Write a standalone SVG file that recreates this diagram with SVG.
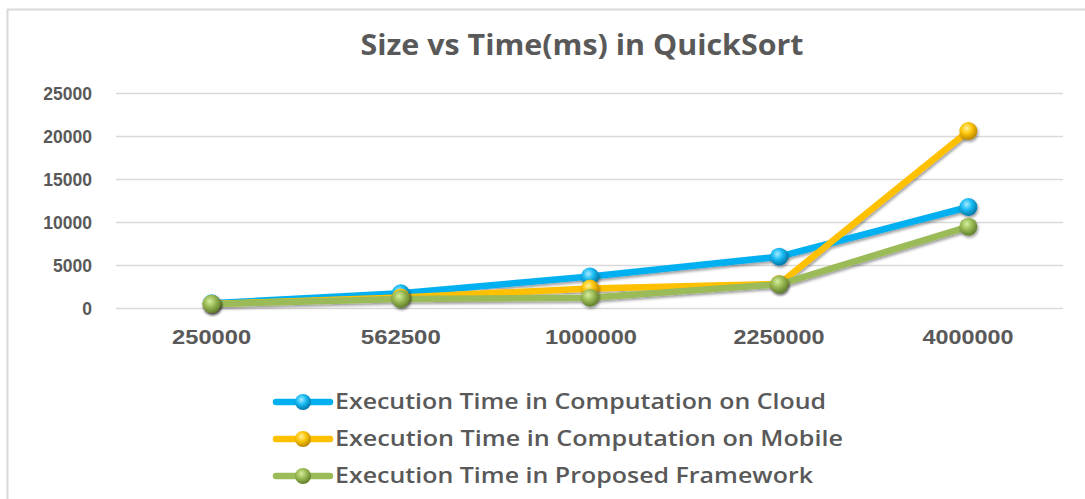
<svg xmlns="http://www.w3.org/2000/svg" width="1085" height="499" viewBox="0 0 1085 499">
  <defs>
    <style>
      .grid { stroke: #D9D9D9; stroke-width: 1.6; }
      .ylab { font-family: "Liberation Sans", Arial, sans-serif; font-weight: bold; font-size: 17.5px; fill: #595959; text-anchor: end; }
      .xlab { font-family: "Liberation Sans", Arial, sans-serif; font-weight: bold; font-size: 19.5px; fill: #595959; text-anchor: middle; }
      .title { font-family: "Open Sans", "Liberation Sans", sans-serif; font-weight: 700; font-size: 28px; fill: #595959; }
      .leg { font-family: "Open Sans", "Liberation Sans", sans-serif; font-weight: 600; font-size: 21px; fill: #595959; }
      .series { fill: none; stroke-width: 6.5; stroke-linejoin: round; stroke-linecap: round; }
      .cloud { stroke: #00B0F0; }
      .mobile { stroke: #FFC000; }
      .green { stroke: #9BBB59; }
    </style>
    <filter id="shadow" x="-10%" y="-30%" width="120%" height="160%">
      <feGaussianBlur in="SourceAlpha" stdDeviation="1.5"/>
      <feOffset dx="1" dy="2" result="b"/>
      <feComponentTransfer><feFuncA type="linear" slope="0.4"/></feComponentTransfer>
      <feMerge><feMergeNode/><feMergeNode in="SourceGraphic"/></feMerge>
    </filter>
    <radialGradient id="gCloud" cx="0.4" cy="0.35" r="0.65">
      <stop offset="0" stop-color="#A8EBFF"/>
      <stop offset="0.45" stop-color="#1CBDF5"/>
      <stop offset="1" stop-color="#0077A8"/>
    </radialGradient>
    <radialGradient id="gMobile" cx="0.4" cy="0.35" r="0.65">
      <stop offset="0" stop-color="#FFF0A0"/>
      <stop offset="0.45" stop-color="#FFC80A"/>
      <stop offset="1" stop-color="#B88600"/>
    </radialGradient>
    <radialGradient id="gGreen" cx="0.4" cy="0.35" r="0.65">
      <stop offset="0" stop-color="#D8EDA0"/>
      <stop offset="0.45" stop-color="#9DBE58"/>
      <stop offset="1" stop-color="#62802C"/>
    </radialGradient>
  </defs>

  <rect width="1085" height="499" fill="#FFFFFF"/>
  <!-- chart area frame -->
  <path d="M7.5 499 V9.5 H1085" fill="none" stroke="#D9D9D9" stroke-width="2"/>

  <text class="title" x="582" y="55" text-anchor="middle" textLength="443" lengthAdjust="spacingAndGlyphs">Size vs Time(ms) in QuickSort</text>

  <!-- value axis gridlines and labels -->
  <g id="grid">
    <line class="grid" x1="116" y1="93.5" x2="1063" y2="93.5"/>
    <line class="grid" x1="116" y1="136.5" x2="1063" y2="136.5"/>
    <line class="grid" x1="116" y1="179.5" x2="1063" y2="179.5"/>
    <line class="grid" x1="116" y1="222.5" x2="1063" y2="222.5"/>
    <line class="grid" x1="116" y1="265.5" x2="1063" y2="265.5"/>
    <line class="grid" x1="116" y1="308.5" x2="1063" y2="308.5"/>
  </g>
  <g id="y-axis">
    <text class="ylab" x="92" y="99.5">25000</text>
    <text class="ylab" x="92" y="142.5">20000</text>
    <text class="ylab" x="92" y="185.5">15000</text>
    <text class="ylab" x="92" y="228.5">10000</text>
    <text class="ylab" x="92" y="271.5">5000</text>
    <text class="ylab" x="92" y="314.5">0</text>
  </g>
  <g id="x-axis">
    <text class="xlab" x="211.6" y="344" textLength="79" lengthAdjust="spacingAndGlyphs">250000</text>
    <text class="xlab" x="400.8" y="344" textLength="80" lengthAdjust="spacingAndGlyphs">562500</text>
    <text class="xlab" x="591" y="344" textLength="92" lengthAdjust="spacingAndGlyphs">1000000</text>
    <text class="xlab" x="779" y="344" textLength="91" lengthAdjust="spacingAndGlyphs">2250000</text>
    <text class="xlab" x="968" y="344" textLength="91" lengthAdjust="spacingAndGlyphs">4000000</text>
  </g>

  <!-- data series -->
  <g id="connectors" filter="url(#shadow)">
    <polyline class="series cloud" points="211.6,303.3 400.8,293.3 590,276.5 779.2,256.7 968.4,207"/>
    <polyline class="series mobile" points="211.6,304 400.8,297.5 590,288.5 779.2,284 968.4,131"/>
    <polyline class="series green" points="211.6,304 400.8,299 590,297.7 779.2,284.3 968.4,226.7"/>
  </g>

  <g id="cloud-points" filter="url(#shadow)" fill="url(#gCloud)">
    <circle cx="211.6" cy="303.3" r="9"/>
    <circle cx="400.8" cy="293.3" r="9"/>
    <circle cx="590" cy="276.5" r="9"/>
    <circle cx="779.2" cy="256.7" r="9"/>
    <circle cx="968.4" cy="207" r="9"/>
  </g>
  <g id="mobile-points" filter="url(#shadow)" fill="url(#gMobile)">
    <circle cx="211.6" cy="304" r="9"/>
    <circle cx="400.8" cy="297.5" r="9"/>
    <circle cx="590" cy="288.5" r="9"/>
    <circle cx="779.2" cy="284" r="9"/>
    <circle cx="968.4" cy="131" r="9"/>
  </g>
  <g id="green-points" filter="url(#shadow)" fill="url(#gGreen)">
    <circle cx="211.6" cy="304" r="9"/>
    <circle cx="400.8" cy="299" r="9"/>
    <circle cx="590" cy="297.7" r="9"/>
    <circle cx="779.2" cy="284.3" r="9"/>
    <circle cx="968.4" cy="226.7" r="9"/>
  </g>

  <!-- legend -->
  <g id="legend-cloud">
    <line class="series cloud" x1="276" y1="402" x2="330" y2="402" stroke-width="6"/>
    <circle cx="303" cy="402" r="8" fill="url(#gCloud)"/>
    <text class="leg" x="335" y="409" textLength="491" lengthAdjust="spacingAndGlyphs">Execution Time in Computation on Cloud</text>
  </g>
  <g id="legend-mobile">
    <line class="series mobile" x1="276" y1="439" x2="330" y2="439" stroke-width="6"/>
    <circle cx="303" cy="439" r="8" fill="url(#gMobile)"/>
    <text class="leg" x="335" y="446" textLength="508" lengthAdjust="spacingAndGlyphs">Execution Time in Computation on Mobile</text>
  </g>
  <g id="legend-green">
    <line class="series green" x1="276" y1="476" x2="330" y2="476" stroke-width="6"/>
    <circle cx="303" cy="476" r="8" fill="url(#gGreen)"/>
    <text class="leg" x="335" y="483" textLength="478" lengthAdjust="spacingAndGlyphs">Execution Time in Proposed Framework</text>
  </g>
</svg>
